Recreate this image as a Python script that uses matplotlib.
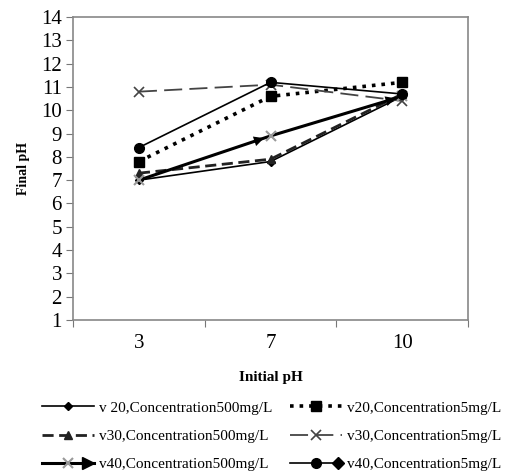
import numpy as np
import matplotlib
matplotlib.use('Agg')
import matplotlib.pyplot as plt
from matplotlib.lines import Line2D
from matplotlib.legend_handler import HandlerLine2D

plt.rcParams['font.family'] = ['Liberation Serif', 'DejaVu Serif']

initial_ph = ['3', '7', '10']
v20_500 = [7.0, 7.8, 10.6]
v20_5 = [7.8, 10.6, 11.2]
v30_500 = [7.3, 7.9, 10.7]
v30_5 = [10.8, 11.1, 10.4]
v40_500 = [7.0, 8.9, 10.6]
v40_5 = [8.4, 11.2, 10.7]

labels = ['v 20,Concentration500mg/L', 'v20,Concentration5mg/L',
          'v30,Concentration500mg/L', 'v30,Concentration5mg/L',
          'v40,Concentration500mg/L', 'v40,Concentration5mg/L']


class LineEnd(HandlerLine2D):
    # legend line with an extra marker at its right end
    def __init__(self, end_marker, end_ms, **kw):
        super().__init__(**kw)
        self.end_marker = end_marker
        self.end_ms = end_ms

    def create_artists(self, legend, orig, xdescent, ydescent, width, height, fontsize, trans):
        arts = super().create_artists(legend, orig, xdescent, ydescent, width, height, fontsize, trans)
        end = Line2D([width - xdescent - self.end_ms * 0.5], [(height - ydescent) / 2.], ls='none',
                     marker=self.end_marker, ms=self.end_ms, color='black')
        end.set_transform(trans)
        return list(arts) + [end]


fig = plt.figure(figsize=(5.11, 4.76), dpi=100)
ax = fig.add_axes([0.143, 0.328, 0.773, 0.636])

x = np.arange(len(initial_ph)) + 0.5

h1, = ax.plot(x, v20_500, '-', color='black', lw=1.2, marker='D', ms=4)
h2, = ax.plot(x, v20_5, ':', color='black', lw=2.6, marker='s', ms=7)
h3, = ax.plot(x, v30_500, color='#222222', lw=2.0, dashes=(4, 2), marker='^', ms=6)
h4, = ax.plot(x, v30_5, color='#444444', lw=1.3, dashes=(10, 4), marker='x', ms=7, mew=1.2)
h5, = ax.plot(x, v40_500, '-', color='black', lw=2.2, marker='x', ms=7, mew=1.5, mec='#999999')
h6, = ax.plot(x, v40_5, '-', color='black', lw=1.2, marker='o', ms=7)

# arrow heads on the v40 500mg/L line
for i in range(len(x) - 1):
    ax.annotate('', xy=(x[i + 1], v40_500[i + 1]), xytext=(x[i], v40_500[i]),
                arrowprops=dict(arrowstyle='-|>', color='black', lw=0,
                                mutation_scale=18, shrinkA=0, shrinkB=5))

ax.set_xlim(0, 3)
ax.set_ylim(1, 14)
ax.set_yticks(range(1, 15))
ax.set_xticks([0, 1, 2, 3])
ax.set_xticklabels([])
ax.set_xticks(x, minor=True)
ax.set_xticklabels(initial_ph, minor=True)
ax.tick_params(axis='x', which='minor', length=0, pad=10)
ax.tick_params(axis='both', which='major', direction='out', length=5, color='#777777')
ax.tick_params(axis='both', which='both', labelsize=15)
ax.tick_params(axis='y', pad=3)
for s in ax.spines.values():
    s.set_color('#888888')
    s.set_linewidth(1.2)

ax.set_xlabel('Initial pH', fontsize=11, fontweight='bold', labelpad=13)
ax.set_ylabel('Final pH', fontsize=10, fontweight='bold', labelpad=8)

hmap = {h5: LineEnd('>', 9), h6: LineEnd('D', 6)}
leg_kw = dict(loc='upper left', frameon=False, fontsize=11, handlelength=3.4,
              handletextpad=0.35, labelspacing=0.95, borderpad=0, borderaxespad=0,
              handler_map=hmap)
leg1 = fig.legend([h1, h3, h5], [labels[0], labels[2], labels[4]],
                  bbox_to_anchor=(42 / 511, 1 - 401 / 476), **leg_kw)
leg2 = fig.legend([h2, h4, h6], [labels[1], labels[3], labels[5]],
                  bbox_to_anchor=(290 / 511, 1 - 401 / 476), **leg_kw)

plt.savefig('out.png', dpi=100)
